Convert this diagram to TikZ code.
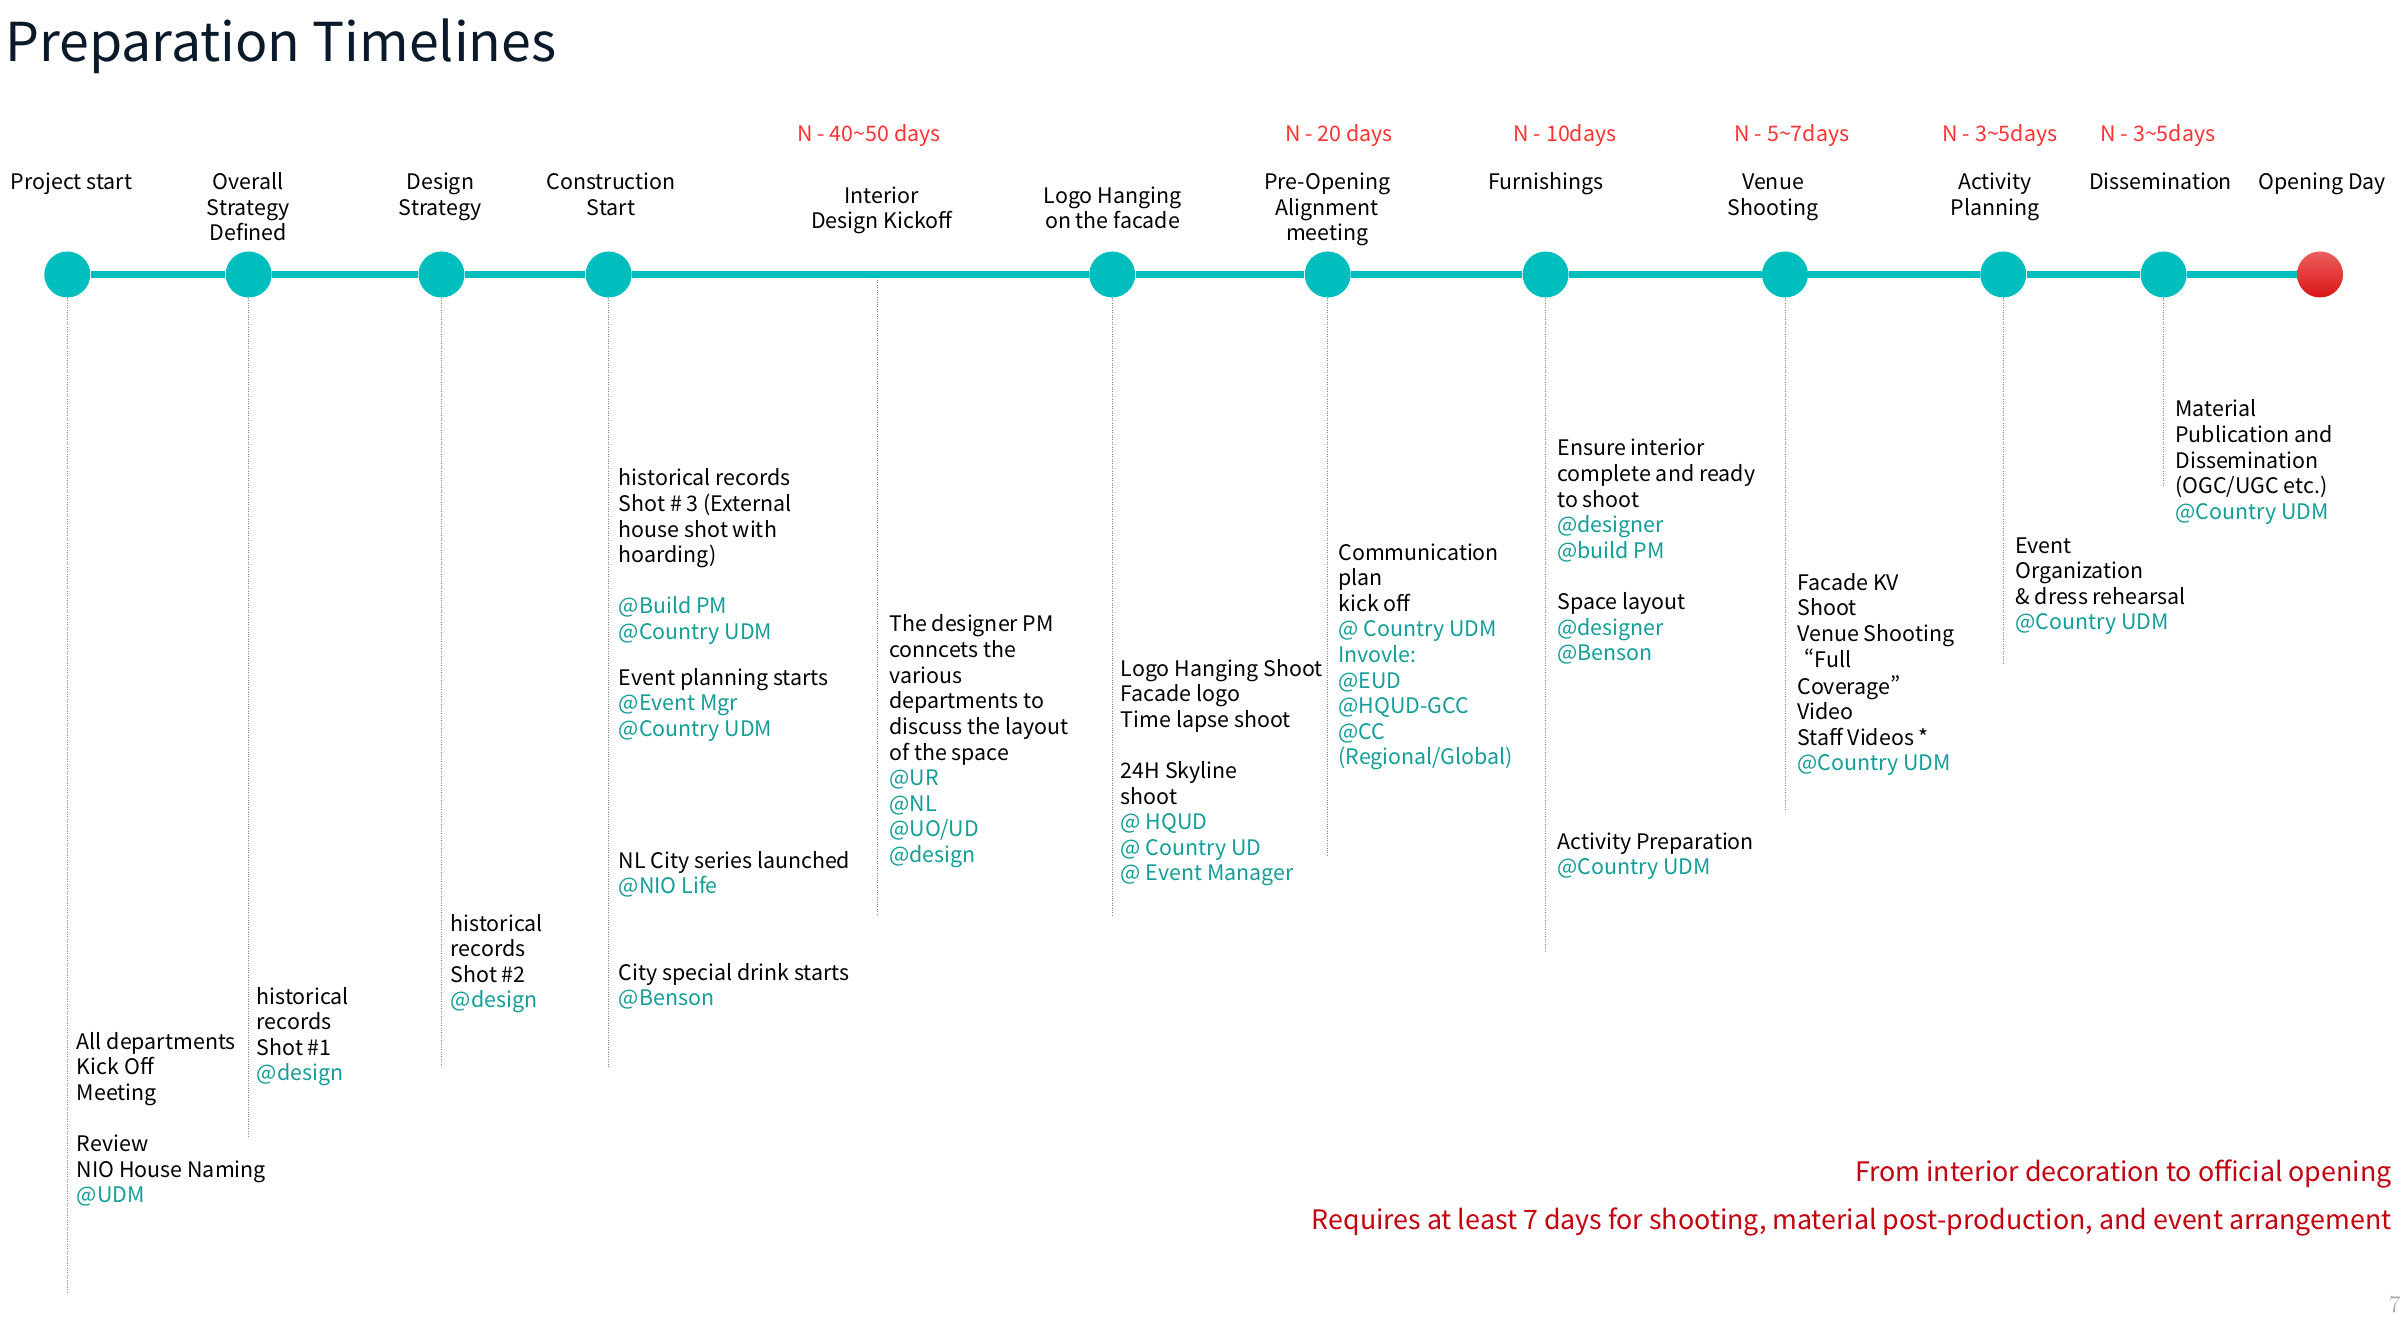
\documentclass[tikz,border=0pt]{standalone}
\usepackage{fontspec}
\setmainfont{Noto Sans CJK SC}
\newfontfamily\qfont{Noto Sans CJK SC}[RawFeature=+pwid]
\newfontfamily\pgnumfont{Latin Modern Roman}
\usetikzlibrary{backgrounds}
\definecolor{tealc}{HTML}{00BEBE}
\definecolor{tealtxt}{HTML}{149E99}
\definecolor{redlbl}{HTML}{FF3333}
\definecolor{redbot}{HTML}{C4000F}
\definecolor{titlec}{HTML}{0B1A2A}
\definecolor{redtop}{HTML}{EC5E5E}
\definecolor{redbtm}{HTML}{DA1616}
\newcommand{\tl}[1]{\textcolor{tealtxt}{#1}}
\newcommand{\blk}[1]{\begin{tabular}[t]{@{}l@{}}#1\end{tabular}}
\newcommand{\cblk}[1]{\begin{tabular}[t]{@{}c@{}}#1\end{tabular}}
\begin{document}
\begin{tikzpicture}[x=0.5pt,y=-0.5pt,
  dot/.style={circle,fill=tealc,draw=none,inner sep=0pt,minimum size=23pt},
  enddot/.style={circle,top color=redtop,bottom color=redbtm,draw=none,inner sep=0pt,minimum size=23pt},
  tline/.style={draw=tealc,line width=3.5pt},
  vline/.style={draw=black!50,line width=0.5pt,dash pattern=on 0.5pt off 0.7pt},
  body/.style={inner sep=0pt,anchor=base west,font=\fontsize{10.7}{12.8}\selectfont,text=black},
  mlabel/.style={inner sep=0pt,anchor=base,font=\fontsize{10.7}{12.7}\selectfont,text=black},
  nlabel/.style={inner sep=0pt,anchor=base,font=\fontsize{10.7}{12.7}\selectfont,text=redlbl},
  botred/.style={inner sep=0pt,anchor=base east,font=\fontsize{13.4}{15}\selectfont,text=redbot},
  titlestyle/.style={inner sep=0pt,anchor=base west,font=\fontsize{26.8}{32}\selectfont,text=titlec}]
\fill[white] (0,0) rectangle (2403,1320);
\useasboundingbox (0,0) rectangle (2403,1320);

% title
\node[titlestyle] (title) at (5,61.7) {Preparation Timelines};

% milestone circles
\node[dot] (m1) at (67.3,274.5) {};
\node[dot] (m2) at (248.7,274.5) {};
\node[dot] (m3) at (441.5,274.5) {};
\node[dot] (m4) at (608.7,274.5) {};
\coordinate (mi) at (877,280);
\node[dot] (m5) at (1112.2,274.5) {};
\node[dot] (m6) at (1327.7,274.5) {};
\node[dot] (m7) at (1545.6,274.5) {};
\node[dot] (m8) at (1785,274.5) {};
\node[dot] (m9) at (2003.2,274.5) {};
\node[dot] (m10) at (2163.6,274.5) {};
\node[enddot] (m11) at (2320,274.5) {};

\draw[tline] (m1) -- (m2) -- (m3) -- (m4) -- (m5) -- (m6) -- (m7) -- (m8) -- (m9) -- (m10) -- (m11);

% dotted drop lines
\coordinate (e1) at (67.3,1293);
\coordinate (e2) at (248.7,1136);
\coordinate (e3) at (441.5,1064);
\coordinate (e4) at (608.7,1068);
\coordinate (ei) at (877,916);
\coordinate (e5) at (1112.2,915);
\coordinate (e6) at (1327.7,855);
\coordinate (e7) at (1545.6,953);
\coordinate (e8) at (1785,810);
\coordinate (e9) at (2003.2,664);
\coordinate (e10) at (2163.6,486);
\draw[vline] (m1.south) -- (e1);
\draw[vline] (m2.south) -- (e2);
\draw[vline] (m3.south) -- (e3);
\draw[vline] (m4.south) -- (e4);
\draw[vline] (mi) -- (ei);
\draw[vline] (m5.south) -- (e5);
\draw[vline] (m6.south) -- (e6);
\draw[vline] (m7.south) -- (e7);
\draw[vline] (m8.south) -- (e8);
\draw[vline] (m9.south) -- (e9);
\draw[vline] (m10.south) -- (e10);

% red time labels
\node[nlabel] (n1) at (869,141.7) {N - 40\textasciitilde50 days};
\node[nlabel] (n2) at (1339,141.7) {N - 20 days};
\node[nlabel] (n3) at (1565,141.7) {N - 10days};
\node[nlabel] (n4) at (1792,141.7) {N - 5\textasciitilde7days};
\node[nlabel] (n5) at (2000,141.7) {N - 3\textasciitilde5days};
\node[nlabel] (n6) at (2158,141.7) {N - 3\textasciitilde5days};

% milestone labels
\node[mlabel] (l1) at (71.5,190) {\cblk{Project start}};
\node[mlabel] (l2) at (248.3,190) {\cblk{Overall\\Strategy\\Defined}};
\node[mlabel] (l3) at (440.3,190) {\cblk{Design\\Strategy}};
\node[mlabel] (l4) at (611,190) {\cblk{Construction\\Start}};
\node[mlabel] (li) at (881.8,203.3) {\cblk{Interior\\Design Kickoff}};
\node[mlabel] (l5) at (1112.5,203.3) {\cblk{Logo Hanging\\on the facade}};
\node[mlabel] (l6) at (1327.3,190) {\cblk{Pre-Opening\\Alignment\\meeting}};
\node[mlabel] (l7) at (1546,190) {\cblk{Furnishings}};
\node[mlabel] (l8) at (1773,190) {\cblk{Venue\\Shooting}};
\node[mlabel] (l9) at (1995,190) {\cblk{Activity\\Planning}};
\node[mlabel] (l10) at (2160.5,190) {\cblk{Dissemination}};
\node[mlabel] (l11) at (2322,190) {\cblk{Opening Day}};

% detail blocks
\node[body] (ta) at (76.5,1049) {\blk{All departments\\Kick Off\\Meeting\\ \mbox{}\\Review\\NIO House Naming\\ \tl{@UDM}}};
\node[body] (tb) at (256.4,1004) {\blk{historical\\records\\Shot \#1\\ \tl{@design}}};
\node[body] (tc) at (450.4,931) {\blk{historical\\records\\Shot \#2\\ \tl{@design}}};
\node[body] (td1) at (618.5,486) {\blk{historical records\\Shot \# 3 (External\\house shot with\\hoarding)\\ \mbox{}\\ \tl{@Build PM}\\ \tl{@Country UDM}}};
\node[body] (td2) at (618.5,685) {\blk{Event planning starts\\ \tl{@Event Mgr}\\ \tl{@Country UDM}}};
\node[body] (td3) at (618.5,868) {\blk{NL City series launched\\ \tl{@NIO Life}}};
\node[body] (td4) at (618.5,980) {\blk{City special drink starts\\ \tl{@Benson}}};
\node[body] (te) at (889,632) {\blk{The designer PM\\conncets the\\various\\departments to\\discuss the layout\\of the space\\ \tl{@UR}\\ \tl{@NL}\\ \tl{@UO/UD}\\ \tl{@design}}};
\node[body] (tf) at (1120.5,676) {\blk{Logo Hanging Shoot\\Facade logo\\Time lapse shoot\\ \mbox{}\\24H Skyline\\shoot\\ \tl{@ HQUD}\\ \tl{@ Country UD}\\ \tl{@ Event Manager}}};
\node[body] (tg) at (1338,560) {\blk{Communication\\plan\\kick off\\ \tl{@ Country UDM}\\ \tl{Invovle:}\\ \tl{@EUD}\\ \tl{@HQUD-GCC}\\ \tl{@CC}\\ \tl{(Regional/Global)}}};
\node[body] (th1) at (1557,456) {\blk{Ensure interior\\complete and ready\\to shoot\\ \tl{@designer}\\ \tl{@build PM}\\ \mbox{}\\Space layout\\ \tl{@designer}\\ \tl{@Benson}}};
\node[body] (th2) at (1557,849) {\blk{Activity Preparation\\ \tl{@Country UDM}}};
\node[body] (ti) at (1797,590) {\blk{Facade KV\\Shoot\\Venue Shooting\\ \hspace*{3.5pt}{\qfont “}Full\\Coverage{\qfont ”}\\Video\\Staff Videos *\\ \tl{@Country UDM}}};
\node[body] (tj) at (2015,553) {\blk{Event\\Organization\\\& dress rehearsal\\ \tl{@Country UDM}}};
\node[body] (tk) at (2175,417) {\blk{Material\\Publication and\\Dissemination\\(OGC/UGC etc.)\\ \tl{@Country UDM}}};

% bottom notes
\node[botred] (b1) at (2392,1181.5) {From interior decoration to official opening};
\node[botred] (b2) at (2392,1229) {Requires at least 7 days for shooting, material post-production, and event arrangement};
\node[inner sep=0pt,anchor=base east,font=\pgnumfont\fontsize{12}{14}\selectfont,text=black!35] (pg) at (2401,1312.7) {7};
\end{tikzpicture}
\end{document}
